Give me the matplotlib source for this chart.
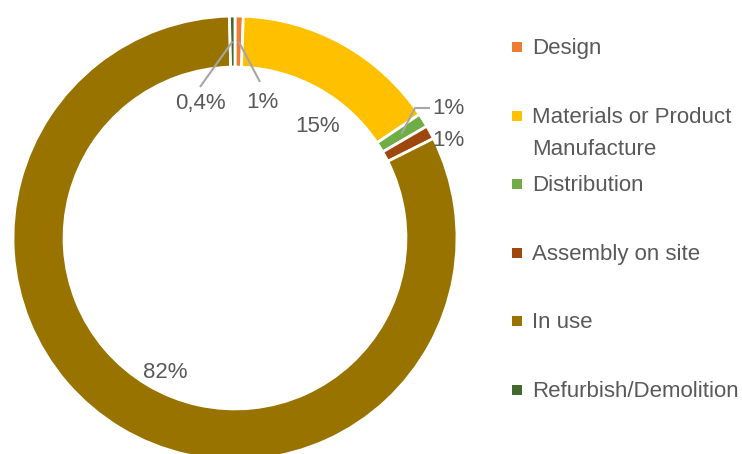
import numpy as np
import matplotlib.pyplot as plt

# life-cycle stages and their share of the total (%)
stages = ["Design", "Materials or Product\nManufacture", "Distribution",
          "Assembly on site", "In use", "Refurbish/Demolition"]
shares = [0.6, 15.0, 1.0, 1.0, 82.0, 0.4]
colors = ["#ED7D31", "#FFC000", "#70AD47", "#9E480E", "#997300", "#43682B"]

plt.rcParams["font.family"] = ["Liberation Sans", "DejaVu Sans"]
TXT = "#595959"
LINE = "#A6A6A6"

W, H = 742, 454
fig = plt.figure(figsize=(W / 100, H / 100), dpi=100)
ax = fig.add_axes([0, 0, 1, 1])

# work in pixel units, y measured upward
cx, cy, R = 235, H - 238, 222
ring = R * 0.23
wedges, _ = ax.pie(shares, colors=colors, startangle=90, counterclock=False,
                   radius=R, center=(cx, cy),
                   wedgeprops=dict(width=ring, edgecolor="white", linewidth=2))
ax.set_xlim(0, W)
ax.set_ylim(0, H)
ax.set_aspect("equal")
ax.axis("off")


def pct(v):
    if v < 0.5:
        return f"{v:.1f}%".replace(".", ",")
    return f"{v:.0f}%"


def on_ring(w, r):
    a = np.deg2rad((w.theta1 + w.theta2) / 2)
    return cx + r * np.cos(a), cy + r * np.sin(a)


# label placement (x, y from top) and optional connector points
label_pos = {
    0: ((262, 102), [(260, 82)]),
    1: ((318, 127), None),
    2: ((432, 108), [(415, 108), (430, 108)]),
    3: ((432, 140), None),
    4: ((165, 372), None),
    5: ((200, 103), [(200, 87)]),
}
for i, w in enumerate(wedges):
    (lx, ly), leader = label_pos[i]
    ha = "left" if i in (2, 3) else "center"
    if leader:
        sx, sy = on_ring(w, R - ring / 2)
        xs = [sx] + [p[0] for p in leader]
        ys = [sy] + [H - p[1] for p in leader]
        ax.plot(xs, ys, color=LINE, lw=1.5, solid_capstyle="butt")
    ax.text(lx, H - ly, pct(shares[i]), ha=ha, va="center",
            fontsize=16, color=TXT)

# legend on the right
for i, (name, c) in enumerate(zip(stages, colors)):
    y = H - (47 + 68.6 * i)
    ax.scatter([517], [y], marker="s", s=62, color=c, linewidths=0)
    ax.text(532, y + 9, name, ha="left", va="top", fontsize=16,
            color=TXT, linespacing=1.7)

fig.savefig("out.png", dpi=100)
